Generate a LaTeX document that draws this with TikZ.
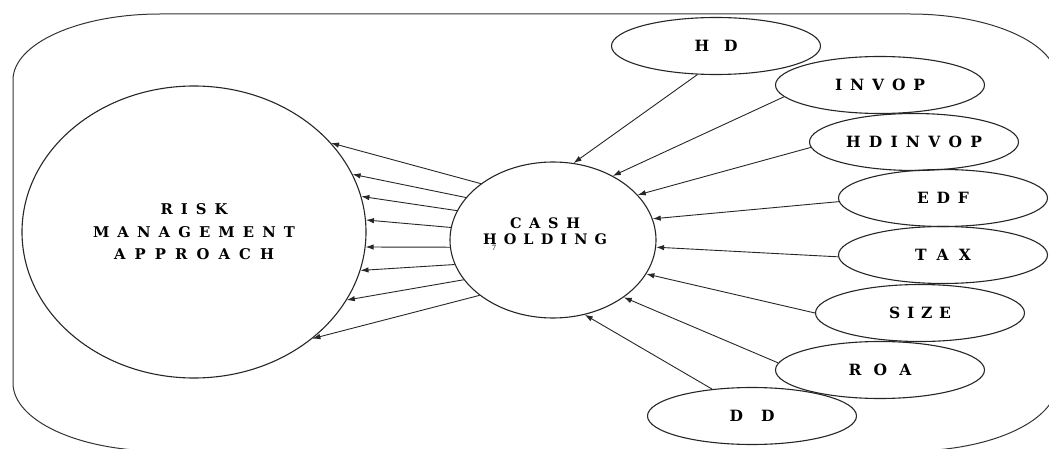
\documentclass[tikz,border=0pt]{standalone}
\usepackage{fontspec}
\setmainfont{Liberation Serif}
\newfontfamily\wf{DejaVu Serif}
\ExplSyntaxOn
\NewDocumentCommand\spreadtxt{mm}{\makebox[#1pt][s]{\tl_map_inline:nn{#2}{##1\hfil}\unskip}}
\ExplSyntaxOff
\usetikzlibrary{shapes.geometric,arrows.meta}
\begin{document}
\begin{tikzpicture}[x=1pt,y=-1pt,
  oval/.style={draw=black!85, line width=1.1pt, ellipse, inner sep=0pt},
  var/.style={oval, minimum width=209pt, minimum height=57pt, font=\wf\bfseries\fontsize{15.5}{17}\selectfont},
  arr/.style={draw=black!85, line width=0.9pt, -{Latex[length=8pt,width=5.5pt]}},
  frame/.style={draw=black!80, line width=1pt}]
\useasboundingbox (0,0) rectangle (1049,449);
\begin{scope}
  \clip (0,0) rectangle (1049,449);
  \draw[frame] (13,383) -- (13,80) .. controls (13,43.5) and (78.8,14) .. (160,14)
    -- (910,14) .. controls (991.2,14) and (1057,43.5) .. (1057,80)
    -- (1057,383) .. controls (1057,420.6) and (991.2,451) .. (910,451)
    -- (160,451) .. controls (78.8,451) and (13,420.6) .. cycle;
\end{scope}

\node[oval, minimum width=344pt, minimum height=292pt, align=center,
  font=\wf\bfseries\fontsize{14.8}{22.5}\selectfont] (risk) at (194,232)
  {\spreadtxt{67}{RISK}\\\spreadtxt{202}{MANAGEMENT}\\\spreadtxt{160}{APPROACH}};
\node[oval, minimum width=206pt, minimum height=156pt] (cash) at (553,240) {};
\node[font=\wf\bfseries\fontsize{14.5}{16}\selectfont, align=center, inner sep=0pt] (cashtxt) at (545,231)
  {\spreadtxt{70}{CASH}\\\spreadtxt{124}{HOLDING}};
\node[font=\fontsize{8}{8}\selectfont, inner sep=0pt] (seven) at (494,248) {7};

\node[var] (hd) at (716,46) {\spreadtxt{43}{HD}};
\node[var] (invop) at (880,85) {\spreadtxt{90}{INVOP}};
\node[var] (hdinvop) at (914,142) {\spreadtxt{136}{HDINVOP}};
\node[var] (edf) at (943,198) {\spreadtxt{52}{EDF}};
\node[var] (tax) at (943,255) {\spreadtxt{56}{TAX}};
\node[var] (size) at (920,313) {\spreadtxt{62}{SIZE}};
\node[var] (roa) at (880,370) {\spreadtxt{63}{ROA}};
\node[var] (dd) at (752,416) {\spreadtxt{45}{DD}};

\draw[arr] (hd.237) -- (cash.75);
\draw[arr] (invop.187) -- (cash.47);
\draw[arr] (hdinvop.183) -- (cash.28);
\draw[arr] (edf.182) -- (cash.12);
\draw[arr] (tax.181) -- (cash.-4);
\draw[arr] (size.180) -- (cash.-20);
\draw[arr] (roa.176) -- (cash.-39);
\draw[arr] (dd.146) -- (cash.-67);

\draw[arr] (cash.142) -- (risk.33);
\draw[arr] (cash.154) -- (risk.20);
\draw[arr] (cash.163) -- (risk.12);
\draw[arr] (cash.173) -- (risk.4);
\draw[arr] (cash.184) -- (risk.-5);
\draw[arr] (cash.194) -- (risk.-13);
\draw[arr] (cash.204) -- (risk.-24);
\draw[arr] (cash.217) -- (risk.-42);
\end{tikzpicture}
\end{document}
